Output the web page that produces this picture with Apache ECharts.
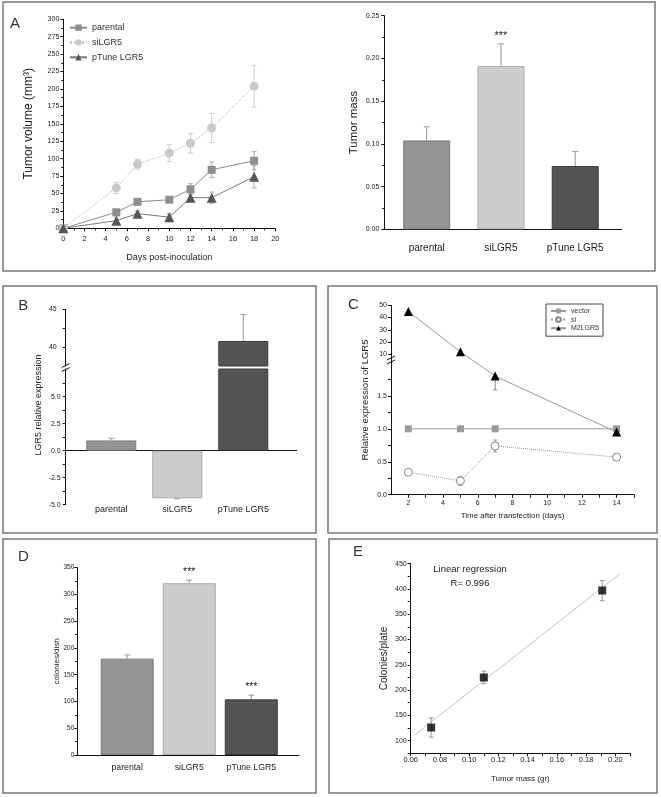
<!DOCTYPE html>
<html><head><meta charset="utf-8">
<script src="https://cdn.jsdelivr.net/npm/echarts@6/dist/echarts.min.js"></script>
<style>html,body{margin:0;padding:0;background:#fff}#c{width:661px;height:797px}</style>
</head><body><div id="c"></div><script>
// ================= DATA =================
// Panel A (left): tumor volume over time
const daysA = [0, 5, 7, 10, 12, 14, 18];
const volParental = [0, 23, 38, 41, 56, 84, 97];
const errParental = [0, 4, 3, 4, 8, 11, 13];
const volSi = [0, 58, 92, 108, 122, 144, 204];
const errSi = [0, 8, 7, 12, 14, 21, 30];
const volPTune = [0, 11, 21, 16, 44, 44, 74];
const errPTune = [0, 5, 4, 5, 5, 8, 16];
// Categories shared by the bar panels
const groups = ['parental', 'siLGR5', 'pTune LGR5'];
const catPos = [1, 2, 3];
// Panel A (right): tumor mass
const massVal = [0.104, 0.191, 0.074];
const massErr = [0.016, 0.026, 0.017];
const massSig = ['', '***', ''];
// Panel B: LGR5 relative expression (broken axis)
const exprVal = [0.95, -4.41, 40.8];
const exprErr = [0.2, 0.05, 3.5];
// Panel C: relative expression over time (broken axis)
const daysC = [2, 5, 7, 14];
const cVector = [1.0, 1.0, 1.0, 1.0];
const cVectorErr = [0.02, 0.02, 0.02, 0.03];
const cSi = [0.34, 0.21, 0.74, 0.57];
const cSiErr = [0.04, 0.07, 0.09, 0.04];
const cM2 = [45, 12, 1.8, 0.95];
const cM2ErrLow = [1.5, 1.0, 0.21, 0.05];
// Panel D: colonies / dish
const colVal = [180, 321, 104];
const colErr = [7, 6, 8];
const colSig = ['', '***', '***'];
// Panel E: colonies vs tumor mass
const eMass = [0.074, 0.110, 0.191];
const eColonies = [126, 225, 397];
const eErr = [19, 12.5, 20];
const regX = [0.063, 0.203];
const regY = [112, 430];
const regText = ['Linear regression', 'R= 0.996'];
// Tick labels
const ticksBUpperLab = [40, 45];
const ticksBUpper = [40, 42.5, 45];
const ticksBLowerLab = [-5, -2.5, 0, 2.5, 5];
const ticksBLower = [-5, -3.75, -2.5, -1.25, 0, 1.25, 2.5, 3.75, 5, 6.25];
const ticksCLowLab = [0, 0.5, 1.0, 1.5];
const ticksCLow = [0, 0.25, 0.5, 0.75, 1.0, 1.25, 1.5, 1.75];
const ticksCHigh = [10, 20, 30, 40, 50];
const ticksCXLab = [2, 4, 6, 8, 10, 12, 14];
const ticksCX = [2, 3, 4, 5, 6, 7, 8, 9, 10, 11, 12, 13, 14, 15];
const ticksEXLab = [0.06, 0.08, 0.10, 0.12, 0.14, 0.16, 0.18, 0.20];
const ticksEX = [0.06, 0.07, 0.08, 0.09, 0.10, 0.11, 0.12, 0.13, 0.14, 0.15, 0.16, 0.17, 0.18, 0.19, 0.20, 0.21];
const ticksEYLab = [100, 150, 200, 250, 300, 350, 400, 450];
const ticksEY = [75, 100, 125, 150, 175, 200, 225, 250, 275, 300, 325, 350, 375, 400, 425, 450];

// ================= STYLE / LAYOUT =================
const FONT = '"Liberation Sans", Arial, Helvetica, sans-serif';
const TXT = '#222';
const AX = '#111';
const barFill = ['#959595', '#cdcdcd', '#545454'];
const barEdge = ['#7a7a7a', '#a8a8a8', '#3a3a3a'];
// broken-axis mapping for panel C (lower segment linear, upper segment compressed)
const C_UP_T10 = 2.132, C_UP_K = 0.01856;
const tC = v => (v <= 3 ? v : C_UP_T10 + (v - 10) * C_UP_K);
const tCinv = t => (t <= 2.05 ? t : 10 + (t - C_UP_T10) / C_UP_K);
const B_LOW_MAX = 7.56, B_UP_MIN = 37.48;

function merge(a, b) {
  const out = Object.assign({}, a);
  for (const k in b) {
    const v = b[k];
    if (v && typeof v === 'object' && !Array.isArray(v) && out[k] && typeof out[k] === 'object' && !Array.isArray(out[k])) out[k] = merge(out[k], v);
    else out[k] = v;
  }
  return out;
}
const AXIS_BASE = {
  type: 'value', nameMoveOverlap: false, nameLocation: 'middle',
  axisLine: { show: true, onZero: false, lineStyle: { color: AX, width: 1 } },
  axisTick: { show: true, inside: false, length: 3, lineStyle: { color: AX, width: 1 } },
  minorTick: { show: false, length: 2, lineStyle: { color: AX, width: 1 } },
  splitLine: { show: false }, minorSplitLine: { show: false },
  axisLabel: { color: TXT, fontFamily: FONT, fontSize: 7, margin: 4 },
  nameTextStyle: { color: TXT, fontFamily: FONT }
};
const ax = o => merge(AXIS_BASE, o);
const catFmt = v => groups[Math.round(v) - 1] || '';

function errSeries(xi, yi, rows, o) {
  return {
    type: 'custom', xAxisIndex: xi, yAxisIndex: yi, z: o.z == null ? 1 : o.z, silent: true,
    data: rows, encode: { x: 0, y: [1, 2] },
    renderItem(params, api) {
      const x = api.value(0), lo = api.value(1), hi = api.value(2);
      const a = api.coord([x, lo]), b = api.coord([x, hi]);
      const w = (o.cap || 6) / 2, st = { stroke: o.color || '#999', lineWidth: 1 };
      const ch = [{ type: 'line', shape: { x1: a[0], y1: a[1], x2: b[0], y2: b[1] }, style: st }];
      if (o.capHi !== false) ch.push({ type: 'line', shape: { x1: b[0] - w, y1: b[1], x2: b[0] + w, y2: b[1] }, style: st });
      if (o.capLo) ch.push({ type: 'line', shape: { x1: a[0] - w, y1: a[1], x2: a[0] + w, y2: a[1] }, style: st });
      const lab = o.labels ? o.labels[rows[params.dataIndex][3]] : '';
      if (lab) ch.push({ type: 'text', x: b[0], y: b[1] - (o.labelGap || 4), style: { text: lab, align: 'center', verticalAlign: 'bottom', fill: TXT, fontSize: o.labelSize || 11, fontFamily: FONT } });
      return { type: 'group', children: ch };
    }
  };
}
const barItems = (vals) => vals.map((v, i) => ({ value: [catPos[i], v], itemStyle: { color: barFill[i], borderColor: barEdge[i], borderWidth: 1 } }));
const symErr = (xs, v, e) => xs.map((x, i) => [x, v[i] - e[i], v[i] + e[i], i]).filter((r, i) => e[i] > 0);

// ================= OPTION =================
const grid = [
  { left: 63.3, top: 19.3, width: 212, height: 209 },      // 0 A left
  { left: 384.3, top: 15.7, width: 237.4, height: 213.6 }, // 1 A right
  { left: 65.7, top: 309.3, width: 231, height: 56.7 },    // 2 B upper
  { left: 65.7, top: 369, width: 231, height: 135.7 },     // 3 B lower
  { left: 391, top: 305.3, width: 243, height: 189.4 },    // 4 C
  { left: 77.3, top: 567.7, width: 221.7, height: 187.3 }, // 5 D
  { left: 410.7, top: 563.7, width: 219.3, height: 189.6 } // 6 E
].map(g => Object.assign({ outerBoundsMode: 'none', containLabel: false }, g));

const xAxis = [
  ax({ gridIndex: 0, min: 0, max: 20, interval: 2, minorTick: { show: true, splitNumber: 2 },
       axisLabel: { fontSize: 7.5, margin: 7 }, name: 'Days post-inoculation', nameGap: 25, nameTextStyle: { fontSize: 9 } }),
  ax({ gridIndex: 1, min: 0.429, max: 3.626, axisTick: { show: false },
       axisLabel: { customValues: catPos, formatter: catFmt, fontSize: 10, margin: 14 } }),
  ax({ gridIndex: 2, min: 0.309, max: 3.809, show: false }),
  ax({ gridIndex: 3, min: 0.309, max: 3.809, axisLine: { onZero: true }, axisTick: { show: false }, axisLabel: { show: false } }),
  ax({ gridIndex: 3, min: 0.309, max: 3.809, position: 'bottom', axisLine: { show: false, onZero: false }, axisTick: { show: false },
       axisLabel: { customValues: catPos, formatter: catFmt, fontSize: 9, margin: 0 } }),
  ax({ gridIndex: 4, min: 1, max: 15, axisTick: { customValues: ticksCX },
       axisLabel: { customValues: ticksCXLab, fontSize: 7, margin: 5 },
       name: 'Time after transfection (days)', nameGap: 17, nameTextStyle: { fontSize: 8 } }),
  ax({ gridIndex: 5, min: 0.196, max: 3.769, axisTick: { show: false },
       axisLabel: { customValues: catPos, formatter: catFmt, fontSize: 8.7, margin: 8 } }),
  ax({ gridIndex: 6, min: 0.06, max: 0.21, axisTick: { customValues: ticksEX },
       axisLabel: { customValues: ticksEXLab, formatter: v => v.toFixed(2), fontSize: 7.5, margin: 3 },
       name: 'Tumor mass (gr)', nameGap: 21, nameTextStyle: { fontSize: 8 } })
];
const yAxis = [
  ax({ gridIndex: 0, min: 0, max: 300, interval: 25, minorTick: { show: true, splitNumber: 2 },
       axisLabel: { fontSize: 7, margin: 4 }, name: 'Tumor volume (mm³)', nameGap: 29, nameTextStyle: { fontSize: 12 } }),
  ax({ gridIndex: 1, min: 0, max: 0.25, interval: 0.05, minorTick: { show: true, splitNumber: 2 },
       axisLabel: { formatter: v => v.toFixed(2), fontSize: 7, margin: 5 }, name: 'Tumor mass', nameGap: 24, nameTextStyle: { fontSize: 11.5 } }),
  ax({ gridIndex: 2, min: B_UP_MIN, max: 45, axisTick: { customValues: ticksBUpper },
       axisLabel: { customValues: ticksBUpperLab, formatter: v => String(v), fontSize: 7, margin: 9 } }),
  ax({ gridIndex: 3, min: -5, max: B_LOW_MAX, axisTick: { customValues: ticksBLower },
       axisLabel: { customValues: ticksBLowerLab, formatter: v => v.toFixed(1), fontSize: 7, margin: 5 } }),
  ax({ gridIndex: 4, min: 0, max: tC(50), axisTick: { customValues: ticksCLow.concat(ticksCHigh.map(tC)) },
       axisLabel: { customValues: ticksCLowLab.concat(ticksCHigh.map(tC)), fontSize: 7, margin: 4,
                    formatter: t => (t < 2.05 ? t.toFixed(1) : String(Math.round(tCinv(t)))) },
       name: 'Relative expression of LGR5', nameGap: 21, nameTextStyle: { fontSize: 9.5 } }),
  ax({ gridIndex: 5, min: 0, max: 350, interval: 50, minorTick: { show: true, splitNumber: 2 },
       axisLabel: { fontSize: 6.5, margin: 3 }, name: 'colonies/dish', nameGap: 16.6, nameTextStyle: { fontSize: 8 } }),
  ax({ gridIndex: 6, min: 75, max: 450, axisTick: { customValues: ticksEY },
       axisLabel: { customValues: ticksEYLab, fontSize: 7, margin: 4 }, name: 'Colonies/plate', nameGap: 21, nameTextStyle: { fontSize: 10 } })
];

const zip = (xs, ys, f) => xs.map((x, i) => [x, f ? f(ys[i]) : ys[i]]);
const series = [
  // ---- A left
  { name: 'parental', type: 'line', xAxisIndex: 0, yAxisIndex: 0, data: zip(daysA, volParental), z: 3,
    symbol: 'rect', symbolSize: 8, itemStyle: { color: '#8e8e8e' }, lineStyle: { color: '#8a8a8a', width: 1 } },
  { name: 'siLGR5', type: 'line', xAxisIndex: 0, yAxisIndex: 0, data: zip(daysA, volSi), z: 3,
    symbol: 'circle', symbolSize: 9, itemStyle: { color: '#cacaca' }, lineStyle: { color: '#b5b5b5', width: 1, type: 'dotted' } },
  { name: 'pTune LGR5', type: 'line', xAxisIndex: 0, yAxisIndex: 0, data: zip(daysA, volPTune), z: 3,
    symbol: 'triangle', symbolSize: 10, itemStyle: { color: '#555555' }, lineStyle: { color: '#7a7a7a', width: 1 } },
  errSeries(0, 0, symErr(daysA, volParental, errParental), { color: '#aaa', cap: 5, capLo: true }),
  errSeries(0, 0, symErr(daysA, volSi, errSi), { color: '#ccc', cap: 5, capLo: true }),
  errSeries(0, 0, symErr(daysA, volPTune, errPTune), { color: '#aaa', cap: 5, capLo: true }),
  // ---- A right
  { type: 'bar', xAxisIndex: 1, yAxisIndex: 1, barWidth: 47, data: barItems(massVal), z: 2 },
  errSeries(1, 1, catPos.map((x, i) => [x, massVal[i], massVal[i] + massErr[i], i]),
            { color: '#999', cap: 6, labels: massSig, labelGap: 2, labelSize: 11, z: 1 }),
  // ---- B lower / upper
  { type: 'bar', xAxisIndex: 3, yAxisIndex: 3, barWidth: 50, data: barItems(exprVal), z: 2 },
  { type: 'bar', xAxisIndex: 2, yAxisIndex: 2, barWidth: 50,
    data: barItems(exprVal).filter((d, i) => exprVal[i] > B_UP_MIN), z: 2 },
  errSeries(3, 3, catPos.map((x, i) => [x, exprVal[i], exprVal[i] + Math.sign(exprVal[i]) * exprErr[i], i]).filter(r => r[1] < B_LOW_MAX),
            { color: '#999', cap: 6, z: 1 }),
  errSeries(2, 2, catPos.map((x, i) => [x, exprVal[i], exprVal[i] + exprErr[i], i]).filter(r => r[1] > B_UP_MIN),
            { color: '#999', cap: 6, z: 1 }),
  // ---- C
  { name: 'vector', type: 'line', xAxisIndex: 5, yAxisIndex: 4, data: zip(daysC, cVector, tC), z: 3,
    symbol: 'rect', symbolSize: 7, itemStyle: { color: '#9a9a9a' }, lineStyle: { color: '#9a9a9a', width: 1 } },
  { name: 'si', type: 'line', xAxisIndex: 5, yAxisIndex: 4, data: zip(daysC, cSi, tC), z: 3,
    symbol: 'circle', symbolSize: 8, itemStyle: { color: '#fff', borderColor: '#888', borderWidth: 1 },
    lineStyle: { color: '#999', width: 1, type: 'dotted' } },
  { name: 'M2LGR5', type: 'line', xAxisIndex: 5, yAxisIndex: 4, data: zip(daysC, cM2, tC), z: 4,
    symbol: 'triangle', symbolSize: 9, itemStyle: { color: '#000' }, lineStyle: { color: '#999', width: 1 } },
  errSeries(5, 4, daysC.map((d, i) => [d, tC(cSi[i] - cSiErr[i]), tC(cSi[i] + cSiErr[i]), i]), { color: '#999', cap: 4, capLo: true }),
  errSeries(5, 4, daysC.map((d, i) => [d, tC(cM2[i] - cM2ErrLow[i]), tC(cM2[i]), i]), { color: '#888', cap: 4, capLo: true, capHi: false }),
  errSeries(5, 4, daysC.map((d, i) => [d, tC(cVector[i] - cVectorErr[i]), tC(cVector[i] + cVectorErr[i]), i]), { color: '#999', cap: 4, capLo: true }),
  // ---- D
  { type: 'bar', xAxisIndex: 6, yAxisIndex: 5, barWidth: 53, data: barItems(colVal), z: 2 },
  errSeries(6, 5, catPos.map((x, i) => [x, colVal[i], colVal[i] + colErr[i], i]),
            { color: '#999', cap: 6, labels: colSig, labelGap: 2, labelSize: 10.5, z: 1 }),
  // ---- E
  { type: 'line', xAxisIndex: 7, yAxisIndex: 6, data: zip(regX, regY), symbol: 'none', z: 1,
    lineStyle: { color: '#c4c4c4', width: 1 } },
  errSeries(7, 6, eMass.map((m, i) => [m, eColonies[i] - eErr[i], eColonies[i] + eErr[i], i]), { color: '#999', cap: 5, capLo: true, z: 2 }),
  { type: 'scatter', xAxisIndex: 7, yAxisIndex: 6, data: zip(eMass, eColonies), symbol: 'rect', symbolSize: 8,
    itemStyle: { color: '#000' }, z: 3 }
];

const legend = [
  { left: 69, top: 22.7, orient: 'vertical', padding: 0, itemWidth: 17, itemHeight: 8, itemGap: 4.8,
    textStyle: { fontSize: 9, lineHeight: 10, color: '#333', fontFamily: FONT }, data: ['parental', 'siLGR5', 'pTune LGR5'] },
  { left: 546, top: 304, orient: 'vertical', padding: [3, 4, 4, 4], borderColor: '#444', borderWidth: 1,
    itemWidth: 15, itemHeight: 6, itemGap: 0.6,
    textStyle: { fontSize: 7, lineHeight: 8, color: '#333', fontFamily: FONT }, data: ['vector', 'si', 'M2LGR5'] }
];

const boxes = [[3, 2, 652, 269], [3, 286, 313, 247], [328, 286, 329, 247], [3, 539, 313, 254], [329, 539, 328, 254]];
const letters = [['A', 10, 24.2], ['B', 18.3, 305.5], ['C', 348, 305], ['D', 18, 556.7], ['E', 353, 551.7]];
function breakMark(x, y) {
  return { type: 'group', x: x, y: y, silent: true, z: 50, children: [
    { type: 'rect', shape: { x: -5, y: -3, width: 10, height: 6 }, style: { fill: '#fff' } },
    { type: 'line', shape: { x1: -4, y1: 0, x2: 4, y2: -4 }, style: { stroke: AX, lineWidth: 1 } },
    { type: 'line', shape: { x1: -4, y1: 4, x2: 4, y2: 0 }, style: { stroke: AX, lineWidth: 1 } }
  ] };
}
const graphic = [].concat(
  boxes.map(b => ({ type: 'rect', silent: true, z: 100, shape: { x: b[0], y: b[1], width: b[2], height: b[3] },
                    style: { fill: 'none', stroke: '#777', lineWidth: 1.5 } })),
  letters.map(l => ({ type: 'text', x: l[1], y: l[2], silent: true, z: 100,
                      style: { text: l[0], fontSize: 15, fontFamily: FONT, fill: '#333', align: 'left', verticalAlign: 'middle' } })),
  [{ type: 'text', x: 38.3, y: 405, rotation: Math.PI / 2, silent: true,
     style: { text: 'LGR5 relative expression', fontSize: 9, fontFamily: FONT, fill: TXT, align: 'center', verticalAlign: 'middle' } },
   { type: 'text', x: 470, y: 569.3, silent: true,
     style: { text: regText[0], fontSize: 9.5, fontFamily: FONT, fill: TXT, align: 'center', verticalAlign: 'middle' } },
   { type: 'text', x: 470, y: 583.3, silent: true,
     style: { text: regText[1], fontSize: 9.5, fontFamily: FONT, fill: TXT, align: 'center', verticalAlign: 'middle' } },
   breakMark(65.7, 367.5),
   breakMark(391, 360)]
);

const chart = echarts.init(document.getElementById('c'), null, { renderer: 'canvas' });
chart.setOption({
  animation: false, backgroundColor: '#fff',
  textStyle: { fontFamily: FONT },
  grid, xAxis, yAxis, series, legend, graphic
});
</script></body></html>
